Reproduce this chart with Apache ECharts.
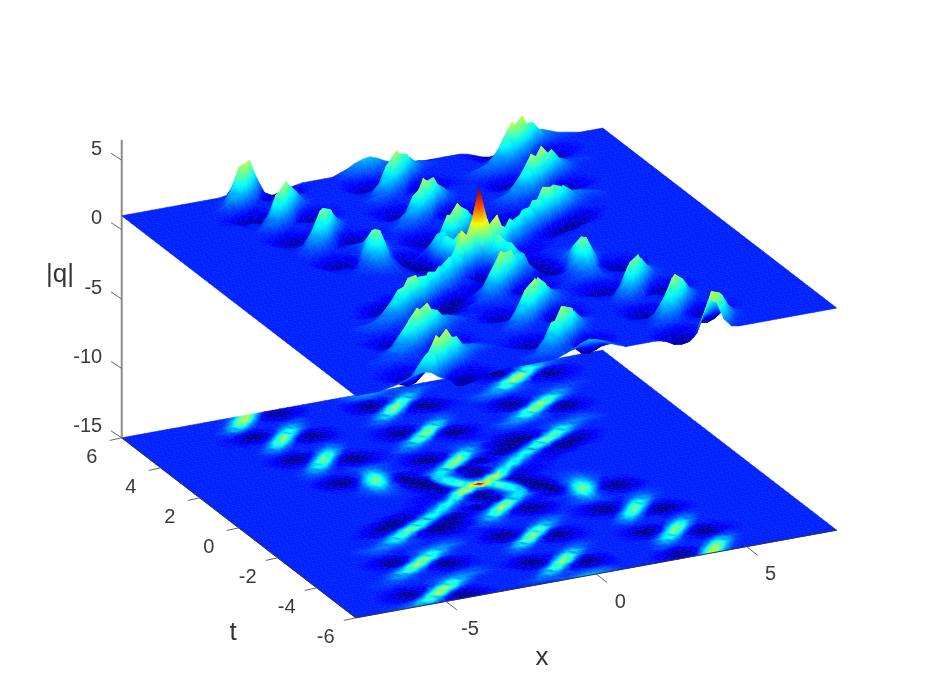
<!DOCTYPE html>
<html><head><meta charset="utf-8">
<style>html,body{margin:0;padding:0;background:#fff}#c{width:926px;height:695px}</style>
<script src="https://cdn.jsdelivr.net/npm/echarts@6/dist/echarts.min.js"></script></head>
<body><div id="c"></div>
<script>
// x positions of the table columns
const xValues = [-8,-7.75,-7.5,-7.25,-7,-6.75,-6.5,-6.25,-6,-5.75,-5.5,-5.25,-5,-4.75,-4.5,-4.25,-4,-3.75,-3.5,-3.25,-3,-2.75,-2.5,-2.25,-2,-1.75,-1.5,-1.25,-1,-0.75,-0.5,-0.25,0,0.25,0.5,0.75,1,1.25,1.5,1.75,2,2.25,2.5,2.75,3,3.25,3.5,3.75,4,4.25,4.5,4.75,5,5.25,5.5,5.75,6,6.25,6.5,6.75,7,7.25,7.5,7.75,8];
// t positions of the table rows (the picture is point-symmetric about x=0,t=0)
const tUpper = [6,5.75,5.5,5.25,5,4.75,4.5,4.25,4,3.75,3.5,3.25,3,2.75,2.5,2.25,2,1.75,1.5,1.25,1,0.75,0.5,0.25,0];
// |q| x 10, one row per t
const qTenths = [
[10,10,10,10, 10,10,10,10, 10,10,10,10, 10,10,11,17, 30,33,19,8, 5,6,8,9, 10,10,10,10, 10,12,14,17, 19,20,18,15, 13,11,10,10, 10,10,10,10, 10,10,9,7, 5,4,5,7, 10,13,17,18, 17,15,13,12, 11,10,10,10, 10],
[10,10,10,10, 10,10,10,10, 10,10,10,10, 10,11,19,33, 35,20,7,2, 1,2,5,7, 9,10,10,10, 10,11,13,14, 14,13,12,11, 12,13,14,14, 12,11,10,10, 10,9,8,5, 2,0,1,7, 16,26,27,20, 13,11,10,10, 10,10,10,10, 10],
[10,10,10,10, 10,10,10,10, 10,10,10,10, 11,18,28,28, 17,10,8,6, 5,6,8,9, 10,10,10,10, 9,8,7,6, 6,8,9,13, 18,21,16,11, 10,10,10,10, 10,10,9,8, 7,8,15,30, 36,25,12,5, 5,7,8,9, 10,10,10,10, 10],
[10,10,10,10, 10,10,10,10, 10,10,10,11, 14,19,18,13, 10,10,10,10, 11,12,12,10, 10,10,10,10, 8,6,2,0, 1,6,16,28, 27,16,10,10, 10,10,10,10, 10,10,10,11, 16,27,36,30, 18,7,2,0, 2,5,8,9, 10,10,10,10, 10],
[10,10,10,10, 10,10,10,10, 10,10,10,10, 11,9,7,6, 8,9,11,15, 18,15,11,10, 10,10,10,10, 9,7,5,4, 12,27,34,23, 9,5,6,7, 9,10,10,10, 10,10,13,18, 26,26,18,12, 9,8,7,6, 7,8,9,10, 10,10,10,10, 10],
[10,10,10,10, 10,10,10,10, 10,10,9,8, 6,2,0,1, 4,10,20,27, 21,13,10,10, 10,10,10,10, 10,10,11,16, 28,30,18,8, 2,0,1,4, 7,9,10,11, 13,15,16,17, 16,14,12,11, 10,10,10,9, 10,10,10,10, 10,10,10,10, 10],
[10,10,10,10, 10,10,10,10, 10,10,9,9, 7,5,4,5, 12,26,33,21, 10,6,7,8, 9,10,10,10, 10,11,16,22, 19,13,9,8, 6,5,5,7, 9,9,10,11, 12,12,12,11, 10,10,10,10, 11,11,12,12, 12,11,11,10, 10,10,10,10, 10],
[10,10,10,10, 10,10,10,10, 10,10,10,10, 9,10,9,15, 28,32,19,6, 1,0,3,6, 9,10,10,10, 11,13,14,13, 11,10,10,10, 10,10,10,10, 10,10,10,9, 9,7,6,6, 7,9,10,11, 14,17,17,14, 11,10,10,10, 10,10,10,10, 10],
[10,10,10,10, 10,10,10,10, 10,10,10,10, 10,10,14,22, 23,16,9,6, 5,4,6,8, 9,10,10,10, 10,10,10,9, 10,10,10,10, 12,14,13,11, 10,10,10,9, 7,4,1,0, 3,8,16,24, 28,21,14,11, 10,10,10,10, 10,10,10,10, 10],
[10,10,10,10, 10,10,10,10, 10,10,10,10, 10,12,15,15, 12,10,10,10, 10,10,10,10, 10,10,10,9, 8,7,5,5, 6,8,11,18, 22,18,12,10, 10,10,10,9, 8,6,4,5, 12,26,35,28, 15,10,9,9, 10,10,10,10, 10,10,10,10, 10],
[10,10,10,10, 10,10,10,10, 10,10,10,10, 10,10,10,9, 8,9,10,10, 12,15,14,11, 10,10,10,9, 7,4,1,0, 4,13,28,30, 19,11,10,10, 10,10,10,10, 10,11,14,24, 34,30,17,6, 1,2,5,8, 9,10,10,10, 10,10,10,10, 10],
[10,10,10,10, 10,10,10,10, 10,10,10,10, 9,8,5,3, 2,4,7,15, 22,20,14,10, 10,10,10,9, 8,7,5,8, 21,34,29,12, 5,4,5,8, 9,10,10,10, 12,17,24,26, 19,12,7,4, 2,3,6,8, 9,10,10,10, 10,10,10,10, 10],
[10,10,10,10, 10,10,10,10, 10,10,10,10, 9,7,4,2, 1,6,17,29, 27,15,8,9, 9,10,10,10, 10,11,15,26, 31,21,9,4, 1,0,3,6, 9,10,12,14, 16,17,16,14, 12,11,9,9, 8,9,9,10, 10,10,10,10, 10,10,10,10, 10],
[10,10,10,10, 10,10,10,10, 10,10,10,10, 10,9,8,8, 9,19,31,27, 13,4,2,3, 6,8,9,10, 11,15,20,19, 14,10,9,8, 6,6,7,9, 10,10,11,12, 12,11,10,10, 10,10,10,11, 12,12,11,10, 10,10,10,10, 10,10,10,10, 10],
[10,10,10,10, 10,10,10,10, 10,10,10,10, 10,10,10,11, 18,25,23,13, 6,3,1,2, 5,8,9,11, 13,14,13,11, 10,10,10,10, 10,9,9,9, 9,9,9,9, 9,9,10,11, 12,14,15,16, 15,13,12,11, 10,10,10,10, 10,10,10,10, 10],
[10,10,10,10, 10,10,10,10, 10,10,10,10, 10,10,11,14, 17,16,12,9, 9,8,7,8, 8,9,10,10, 9,9,9,9, 10,10,11,12, 12,13,11,10, 7,5,4,4, 5,7,8,12, 20,24,20,14, 11,10,10,10, 10,10,10,10, 10,10,10,10, 10],
[10,10,10,10, 10,10,10,10, 10,10,10,10, 10,10,11,12, 12,11,10,10, 11,12,13,13, 12,11,10,8, 6,4,4,5, 7,9,13,18, 19,13,8,6, 4,2,0,0, 2,7,18,29, 27,19,12,10, 10,10,10,10, 10,10,10,10, 10,10,10,10, 10],
[10,10,10,10, 10,10,10,10, 10,10,10,10, 10,10,10,9, 8,7,8,9, 10,15,19,16, 12,10,9,7, 4,1,0,2, 7,18,29,25, 15,11,8,5, 2,1,3,10, 21,32,31,21, 11,6,5,6, 8,9,10,10, 10,10,10,10, 10,10,10,10, 10],
[10,10,10,10, 10,10,10,10, 10,10,10,10, 10,10,8,6, 3,1,2,4, 11,22,27,19, 12,10,10,9, 8,7,7,13, 27,35,25,13, 9,7,3,1, 3,9,17,27, 27,19,8,3, 1,1,4,7, 9,10,10,10, 10,10,10,10, 10,10,10,10, 10],
[10,10,10,10, 10,10,10,10, 10,10,10,10, 10,10,9,7, 4,2,3,8, 19,30,29,16, 8,5,7,8, 9,11,19,31, 30,17,6,1, 1,6,9,11, 16,25,26,16, 8,4,1,1, 3,6,8,9, 10,10,10,10, 10,10,10,10, 10,10,10,10, 10],
[10,10,10,10, 10,10,10,10, 10,10,10,10, 10,10,10,9, 9,9,8,13, 21,28,23,11, 2,1,6,10, 15,22,23,16, 3,3,7,9, 10,10,14,22, 25,17,10,7, 5,5,6,7, 9,10,10,10, 10,10,10,10, 10,10,10,10, 10,10,10,10, 10],
[10,10,10,10, 10,10,10,10, 10,10,10,10, 10,10,10,10, 10,10,11,13, 18,20,15,11, 5,1,1,5, 20,22,16,10, 6,2,1,6, 11,18,27,22, 12,9,8,8, 8,9,10,10, 10,10,10,10, 10,10,10,10, 10,10,10,10, 10,10,10,10, 10],
[10,10,10,10, 10,10,10,10, 10,10,10,10, 10,10,10,10, 10,10,11,12, 14,14,12,10, 6,2,0,3, 19,26,22,12, 4,1,5,13, 27,24,12,9, 8,8,9,9, 10,10,10,10, 10,10,10,10, 10,10,10,10, 10,10,10,10, 10,10,10,10, 10],
[10,10,10,10, 10,10,10,10, 10,10,10,10, 10,10,10,10, 10,10,10,10, 11,11,11,10, 8,5,2,1, 12,24,30,20, 14,16,32,38, 24,10,6,5, 7,8,9,10, 10,10,10,10, 10,10,10,10, 10,10,10,10, 10,10,10,10, 10,10,10,10, 10],
[10,10,10,10, 10,10,10,10, 10,10,10,10, 10,10,10,10, 10,10,10,10, 10,10,10,10, 9,8,6,3, 5,14,26,40, 63,40,26,14, 5,3,6,8, 9,10,10,10, 10,10,10,10, 10,10,10,10, 10,10,10,10, 10,10,10,10, 10,10,10,10, 10]
];
const zTicks = [5,0,-5,-10,-15];
const tTicks = [6,4,2,0,-2,-4,-6];
const xTicks = [-5,0,5];
const zFloor = -15, zTop = 6.47, colorMax = 6.3;

// full table: rows for t<0 are the point reflection of the rows read for t>0
const tValues = tUpper.concat(tUpper.slice(0,-1).reverse().map(v=>-v));
const qTable = tValues.map((t,j)=> j<tUpper.length ? qTenths[j].map(v=>v/10) : qTenths[tValues.length-1-j].slice().reverse().map(v=>v/10));

// oblique view of the box, in plot units the two hidden value axes scale
function project(x,t,z){ return [30.06*x-19.5*t, 5.48*x+15*t+13.88*z]; }

function jet(c){
  const v=Math.max(0,Math.min(1,c/colorMax));
  const ch=a=>Math.round(255*Math.max(0,Math.min(1,1.5-Math.abs(4*v-a))));
  return 'rgb('+ch(3)+','+ch(2)+','+ch(1)+')';
}
function triangle(p,c){
  const lo=c[0]<=c[1]&&c[0]<=c[2]?0:(c[1]<=c[2]?1:2);
  const hi=c[0]>=c[1]&&c[0]>=c[2]?0:(c[1]>=c[2]?1:2);
  const range=c[hi]-c[lo];
  const ax=p[1][0]-p[0][0],ay=p[1][1]-p[0][1],bx=p[2][0]-p[0][0],by=p[2][1]-p[0][1];
  const det=ax*by-ay*bx;
  let fill;
  if(range<0.02||Math.abs(det)<1e-3){ fill=jet((c[0]+c[1]+c[2])/3); }
  else{
    const dc1=c[1]-c[0],dc2=c[2]-c[0];
    const gx=(dc1*by-dc2*ay)/det, gy=(dc2*ax-dc1*bx)/det, g2=gx*gx+gy*gy;
    const x0=p[lo][0],y0=p[lo][1];
    const stops=[0,.25,.5,.75,1].map(o=>({offset:o,color:jet(c[lo]+o*range)}));
    fill=new echarts.graphic.LinearGradient(x0,y0,x0+gx*range/g2,y0+gy*range/g2,stops,true);
  }
  return {type:'polygon',silent:true,shape:{points:p},style:{fill:fill,stroke:fill,lineWidth:0.6}};
}
function surfaceSeries(flat){
  const data=[];
  for(let j=0;j<tValues.length-1;j++) for(let i=xValues.length-2;i>=0;i--){
    data.push([xValues[i],xValues[i+1],tValues[j],tValues[j+1],qTable[j][i],qTable[j][i+1],qTable[j+1][i],qTable[j+1][i+1]]);
  }
  return {type:'custom',coordinateSystem:'cartesian2d',progressive:0,animation:false,silent:true,clip:false,
    encode:{x:0,y:2},data:data,z:flat?2:4,
    renderItem:function(params,api){
      const xa=api.value(0),xb=api.value(1),ta=api.value(2),tb=api.value(3);
      const c=[api.value(4),api.value(5),api.value(6),api.value(7)];
      const pt=(x,t,q)=>api.coord(project(x,t,flat?zFloor:q));
      const p=[pt(xa,ta,c[0]),pt(xb,ta,c[1]),pt(xa,tb,c[2]),pt(xb,tb,c[3])];
      // split each cell along the diagonal that follows the ridge or trough
      const along=Math.abs(c[1]-c[2])<=Math.abs(c[0]-c[3]);
      const kids=along
        ? [triangle([p[0],p[1],p[2]],[c[0],c[1],c[2]]),triangle([p[1],p[3],p[2]],[c[1],c[3],c[2]])]
        : [triangle([p[0],p[1],p[3]],[c[0],c[1],c[3]]),triangle([p[0],p[3],p[2]],[c[0],c[3],c[2]])];
      return {type:'group',children:kids};
    }};
}
// box edges and tick marks: [x,t,z of start, x,t,z of end, pixel dx, pixel dy, kind]
const segs=[[-8,6,zFloor,-8,6,zTop,0,0,0],[-8,6,zFloor,-8,-6,zFloor,0,0,1],[-8,-6,zFloor,8,-6,zFloor,0,0,1]];
zTicks.forEach(z=>segs.push([-8,6,z,-8,6,z,-10.7,-7,2]));
tTicks.forEach(t=>segs.push([-8,t,zFloor,-8,t,zFloor,-12,2.6,2]));
xTicks.forEach(x=>segs.push([x,-6,zFloor,x,-6,zFloor,11,8.6,2]));
const segStyle=[{stroke:'#8c8c8c',lineWidth:2},{stroke:'#333',lineWidth:1},{stroke:'#666',lineWidth:1}];
const labels=[];
zTicks.forEach(z=>labels.push([-8,6,z,-19.5,-11,String(z),'right']));
tTicks.forEach(t=>labels.push([-8,t,zFloor,-30,19.5,String(t),'center']));
xTicks.forEach(x=>labels.push([x,-6,zFloor,24,28.2,String(x),'center']));

const chart=echarts.init(document.getElementById('c'),null,{renderer:'canvas'});
chart.setOption({
  animation:false,backgroundColor:'#fff',
  grid:{left:0,right:0,top:0,bottom:0},
  xAxis:{type:'value',min:-479.2,max:446.8,show:false},
  yAxis:{type:'value',min:-419.2,max:275.8,show:false},
  series:[
    surfaceSeries(true),
    {type:'custom',coordinateSystem:'cartesian2d',animation:false,silent:true,clip:false,z:3,data:segs.map((s,i)=>[i]),
      encode:{x:0,y:0},
      renderItem:function(params,api){
        const s=segs[api.value(0)];
        const a=api.coord(project(s[0],s[1],s[2])),b=api.coord(project(s[3],s[4],s[5]));
        return {type:'line',silent:true,shape:{x1:a[0],y1:a[1],x2:b[0]+s[6],y2:b[1]+s[7]},style:segStyle[s[8]]};
      }},
    surfaceSeries(false),
    {type:'custom',coordinateSystem:'cartesian2d',animation:false,silent:true,clip:false,z:5,data:labels.map((s,i)=>[i]),
      encode:{x:0,y:0},
      renderItem:function(params,api){
        const s=labels[api.value(0)];
        const a=api.coord(project(s[0],s[1],s[2]));
        return {type:'text',silent:true,x:a[0]+s[3],y:a[1]+s[4],style:{text:s[5],fill:'#3a3a3a',font:'20px "Liberation Sans"',textAlign:s[6],textVerticalAlign:'middle'}};
      }}
  ],
  graphic:[
    {type:'text',silent:true,x:60,y:275,style:{text:'|q|',fill:'#333',font:'26px "Liberation Sans"',textAlign:'center',textVerticalAlign:'middle'}},
    {type:'text',silent:true,x:233,y:633,style:{text:'t',fill:'#333',font:'26px "Liberation Sans"',textAlign:'center',textVerticalAlign:'middle'}},
    {type:'text',silent:true,x:542,y:658,style:{text:'x',fill:'#333',font:'26px "Liberation Sans"',textAlign:'center',textVerticalAlign:'middle'}}
  ]
});
</script></body></html>
